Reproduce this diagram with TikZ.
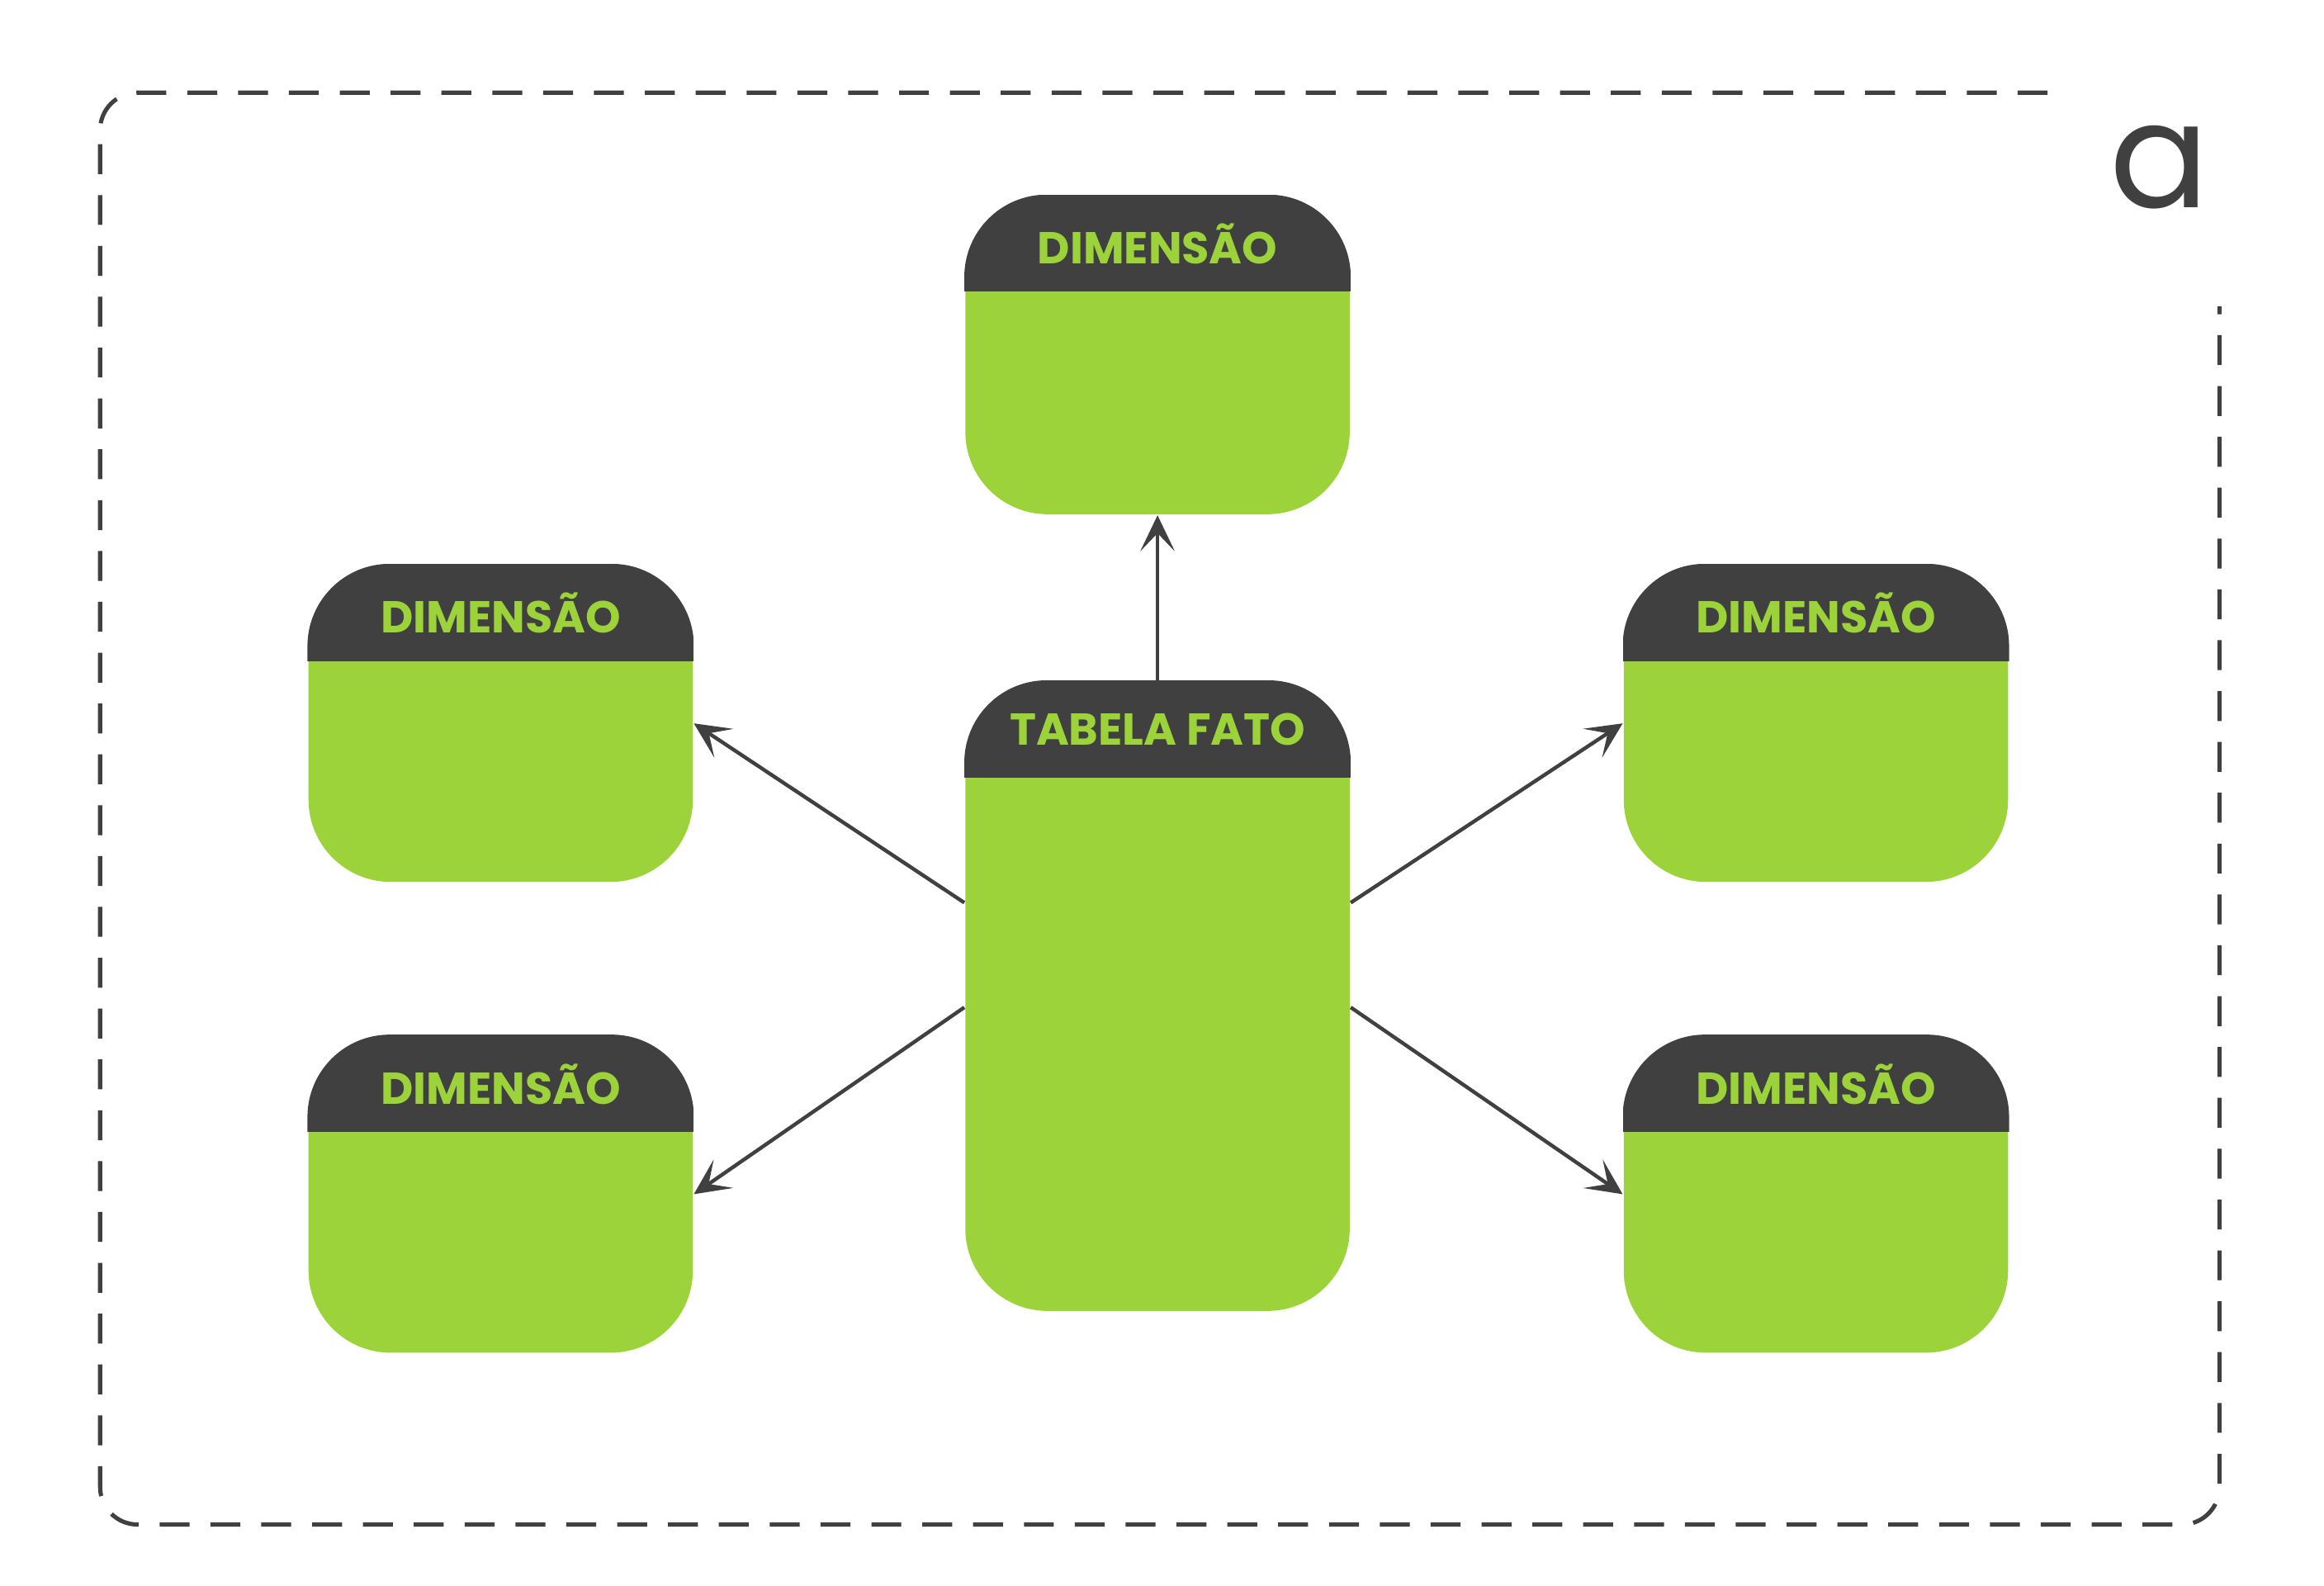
\documentclass[tikz,border=0pt]{standalone}
\usepackage{fontspec}
\setmainfont{Poppins}
\usetikzlibrary{positioning, arrows.meta}
\definecolor{limegreen}{HTML}{9CD33A}
\definecolor{darkgray}{HTML}{404040}

\tikzset{
  box/.style={rectangle, fill=limegreen, rounded corners=0.55cm, minimum width=2.57cm, inner sep=0pt},
  title/.style={text=limegreen, font=\fontsize{8.5}{10}\selectfont\bfseries},
  link/.style={draw=darkgray, line width=0.7pt, -{Stealth[length=2.4mm, width=2.3mm, inset=1.2mm]}},
}

% box with a dark header: name, x, y (center), height, label
\newcommand{\tablebox}[5]{
  \node[box, minimum height=#4] (#1) at (#2,#3) {};
  \begin{scope}
    \clip[rounded corners=0.55cm] (#1.south west) rectangle (#1.north east);
    \fill[darkgray] (#1.north west) rectangle ([yshift=-0.65cm]#1.north east);
  \end{scope}
  \node[title] (#1-title) at ([yshift=-0.33cm]#1.north) {#5};
}

\begin{document}
\begin{tikzpicture}[x=0.01cm, y=-0.01cm]
  \useasboundingbox[fill=white] (0,0) rectangle (1555,1061);

  % frame
  \draw[darkgray, line width=0.8pt, dash pattern=on 2mm off 1.4mm]
    (1370,62) -- (92,62) arc[start angle=90, end angle=180, radius=0.25cm]
    -- (67,995) arc[start angle=180, end angle=270, radius=0.25cm]
    -- (1460,1020) arc[start angle=270, end angle=360, radius=0.25cm]
    -- (1485,205);
  \node[text=darkgray, font=\fontsize{28}{28}\selectfont\mdseries] (logo) at (1445,112) {a};

  % tables
  \tablebox{fato}{774.5}{666.5}{4.21cm}{TABELA FATO}
  \tablebox{top}{774.5}{237.5}{2.13cm}{DIMENSÃO}
  \tablebox{upleft}{335}{484}{2.12cm}{DIMENSÃO}
  \tablebox{lowleft}{335}{799}{2.12cm}{DIMENSÃO}
  \tablebox{upright}{1215}{484}{2.12cm}{DIMENSÃO}
  \tablebox{lowright}{1215}{799}{2.12cm}{DIMENSÃO}

  % links
  \draw[link] (fato.north) -- (top.south);
  \draw[link] ([yshift=0.625cm]fato.west) -- (upleft.east);
  \draw[link] ([yshift=-0.075cm]fato.west) -- (lowleft.east);
  \draw[link] ([yshift=0.625cm]fato.east) -- (upright.west);
  \draw[link] ([yshift=-0.075cm]fato.east) -- (lowright.west);
\end{tikzpicture}
\end{document}
